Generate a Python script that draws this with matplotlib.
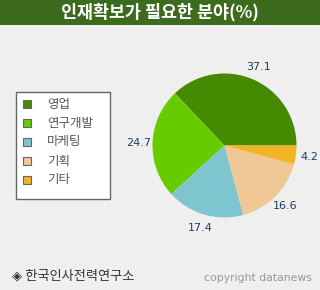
import numpy as np
import matplotlib
matplotlib.use("Agg")
from matplotlib import pyplot as plt
from matplotlib.patches import Rectangle

plt.rcParams['font.family'] = ['Noto Sans CJK KR', 'DejaVu Sans']

categories = ['영업', '연구개발', '마케팅', '기획', '기타']
shares = [37.1, 24.7, 17.4, 16.6, 4.2]
colors = ['#458a00', '#66cc00', '#7ec5cf', '#f0c896', '#f0b424']
title = '인재확보가 필요한 분야(%)'
source = '◈ 한국인사전력연구소'
credit = 'copyright datanews'

W, H = 320, 290
fig = plt.figure(figsize=(W / 100, H / 100), dpi=100)
fig.patch.set_facecolor('#efefef')

def px(x, y):
    # pixel coords from top-left -> figure fraction
    return x / W, 1 - y / H

# title bar
fig.patches.append(Rectangle((0, 1 - 25 / H), 1, 25 / H, transform=fig.transFigure,
                             facecolor='#3d6b1e', edgecolor='none'))
fig.text(*px(160, 12.5), title, color='white', fontsize=12.5, fontweight='bold',
         ha='center', va='center')

# pie
cx, cy, r = 224.5, 145.5, 72
ax = fig.add_axes([(cx - r) / W, (H - cy - r) / H, 2 * r / W, 2 * r / H])
wedges, _ = ax.pie(shares, colors=colors, startangle=0, counterclock=True,
                   wedgeprops=dict(linewidth=0))
ax.set_xlim(-1, 1)
ax.set_ylim(-1, 1)
ax.set_aspect('equal')
for w, val in zip(wedges, shares):
    mid = np.deg2rad((w.theta1 + w.theta2) / 2)
    ax.text(1.19 * np.cos(mid), 1.19 * np.sin(mid), f'{val}', color='#1f3f5f',
            fontsize=8, ha='center', va='center', family='DejaVu Sans', clip_on=False)

# legend box
lx0, ly0, lx1, ly1 = 16, 92, 110, 199
fig.patches.append(Rectangle(px(lx0, ly1), (lx1 - lx0) / W, (ly1 - ly0) / H,
                             transform=fig.transFigure, facecolor='white',
                             edgecolor='#666666', linewidth=1))
for i, (name, c) in enumerate(zip(categories, colors)):
    y = 104 + i * 19
    fig.patches.append(Rectangle(px(23, y + 4), 8 / W, 8 / H, transform=fig.transFigure,
                                 facecolor=c, edgecolor='#666666', linewidth=0.8))
    fig.text(*px(47, y), name, color='#555555', fontsize=9, ha='left', va='center')

# footer
fig.text(*px(12, 276), source, color='#333333', fontsize=9.5, ha='left', va='center',
         family=['Noto Sans CJK KR', 'DejaVu Sans'])
fig.text(*px(312, 278), credit, color='#999999', fontsize=7.8, ha='right', va='center',
         family='DejaVu Sans')

fig.savefig('out.png', dpi=100, facecolor=fig.get_facecolor())
